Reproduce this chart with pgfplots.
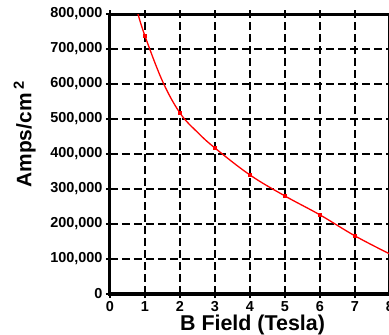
\documentclass[border=0pt]{standalone}
\usepackage{fontspec}
\setmainfont{Liberation Sans}
\usepackage{pgfplots}
\pgfplotsset{compat=1.18}
\begin{document}
\begin{tikzpicture}
\begin{axis}[
  at={(0,0)}, anchor=south west,
  scale only axis, width=280bp, height=280bp,
  xmin=0, xmax=8, ymin=0, ymax=800000,
  xtick={0,1,...,8}, ytick={0,100000,200000,300000,400000,500000,600000,700000,800000},
  scaled y ticks=false,
  /pgf/number format/assume math mode=true,
  yticklabel style={/pgf/number format/.cd, fixed, 1000 sep={,}},
  ticklabel style={font=\fontsize{14.5}{14.5}\selectfont\bfseries},
  axis line style={line width=3bp},
  tick align=outside, major tick length=4bp,
  tick style={black, line width=1.4bp},
  grid=major,
  major grid style={black, line width=1.4bp, dash pattern=on 8bp off 4bp},
  xlabel={B Field (Tesla)},
  ylabel={Amps/cm\,\textsuperscript{2}},
  xlabel style={font=\fontsize{21.5}{21.5}\selectfont\bfseries, at={(rel axis cs:0.509,-0.1286)}, anchor=base},
  ylabel style={font=\fontsize{21}{21}\selectfont\bfseries, at={(rel axis cs:-0.305,0.57)}, anchor=center},
]
\addplot[red, line width=1.3bp, smooth, tension=0.6, mark=square*, mark size=1.4bp, mark indices={2,4,6,7,8,9,10}, mark options={solid}]
  coordinates {(0.8,800000)(1,737000)(1.5,608000)(2,517000)(2.5,462000)(3,417000)(4,340000)(5,280000)(6,226000)(7,166000)(8,114000)};
\end{axis}
\pgfresetboundingbox
\path[use as bounding box] (-110bp,-41bp) rectangle (279bp,294bp);
\end{tikzpicture}
\end{document}
